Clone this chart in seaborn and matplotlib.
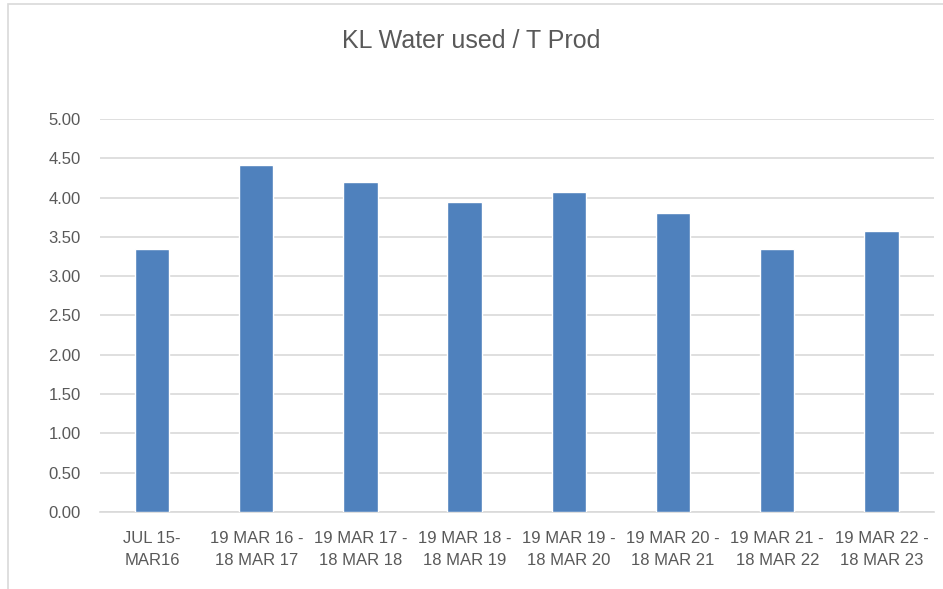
import pandas as pd
import matplotlib.pyplot as plt
import seaborn as sns
from matplotlib.patches import Rectangle

# values
periods = ["JUL 15-\nMAR16", "19 MAR 16 -\n18 MAR 17", "19 MAR 17 -\n18 MAR 18",
           "19 MAR 18 -\n18 MAR 19", "19 MAR 19 -\n18 MAR 20", "19 MAR 20 -\n18 MAR 21",
           "19 MAR 21 -\n18 MAR 22", "19 MAR 22 -\n18 MAR 23"]
kl_per_t = [3.34, 4.41, 4.20, 3.95, 4.07, 3.81, 3.34, 3.58]

df = pd.DataFrame({"period": periods, "value": kl_per_t})

sns.set_style("white")
plt.rcParams['font.family'] = ['Liberation Sans', 'DejaVu Sans']

fig = plt.figure(figsize=(9.43, 5.89), dpi=100)
ax = fig.add_axes([0.106, 0.1307, 0.884, 0.6673])

sns.barplot(data=df, x="period", y="value", color="#4f81bd", width=0.33,
            saturation=1, ax=ax, zorder=3)

ax.set_ylim(0, 5)
ax.set_yticks([i * 0.5 for i in range(11)])
ax.set_yticklabels([f"{i * 0.5:.2f}" for i in range(11)])
ax.yaxis.grid(True, color="#d9d9d9", linewidth=1.2, zorder=0)
ax.set_axisbelow(True)
for s in ["top", "right", "left"]:
    ax.spines[s].set_visible(False)
ax.spines["bottom"].set_color("#d9d9d9")
ax.spines["bottom"].set_linewidth(1.2)
ax.tick_params(axis="both", length=0, colors="#595959", labelsize=12)
ax.tick_params(axis="y", pad=14)
ax.tick_params(axis="x", pad=14)
for lbl in ax.get_xticklabels():
    lbl.set_linespacing(1.55)
ax.set_xlabel("")
ax.set_ylabel("")

fig.text(0.5, 0.93, "KL Water used / T Prod", ha="center", va="center",
         fontsize=18, color="#595959")

# chart border
fig.patches.append(Rectangle((8 / 943, -0.1), 1.2, 1.1 - 4 / 589,
                             transform=fig.transFigure, fill=False,
                             edgecolor="#d9d9d9", linewidth=1.2))

fig.savefig("out.png", dpi=100)
